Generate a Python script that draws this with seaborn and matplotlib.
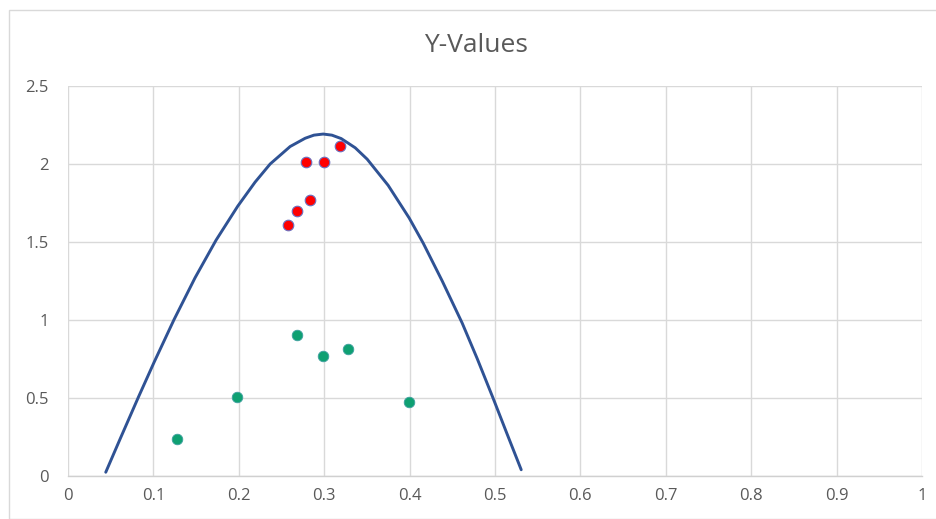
import matplotlib
matplotlib.use("Agg")
import matplotlib.pyplot as plt
import seaborn as sns
import pandas as pd
from matplotlib.patches import Rectangle

# Measured samples (upper group)
red_x = [0.258, 0.268, 0.283, 0.279, 0.300, 0.319]
red_y = [1.61, 1.70, 1.77, 2.01, 2.01, 2.115]

# Measured samples (lower group)
green_x = [0.128, 0.198, 0.268, 0.299, 0.328, 0.399]
green_y = [0.237, 0.506, 0.904, 0.769, 0.814, 0.474]

# Envelope curve
curve_x = [0.0442, 0.0609, 0.0824, 0.1008, 0.1242, 0.1488, 0.1734, 0.1988,
           0.2191, 0.2367, 0.2601, 0.2777, 0.2880, 0.2988, 0.3090, 0.3199,
           0.3363, 0.3503, 0.3749, 0.3995, 0.4159, 0.4382, 0.4616, 0.4792,
           0.4979, 0.5144, 0.5307]
curve_y = [0.024, 0.236, 0.505, 0.729, 1.003, 1.271, 1.512, 1.730,
           1.884, 2.000, 2.112, 2.165, 2.185, 2.192, 2.185, 2.163,
           2.104, 2.031, 1.863, 1.654, 1.493, 1.250, 0.980, 0.752,
           0.497, 0.266, 0.040]

x_ticks = [0, 0.1, 0.2, 0.3, 0.4, 0.5, 0.6, 0.7, 0.8, 0.9, 1]
x_labels = ["0", "0.1", "0.2", "0.3", "0.4", "0.5", "0.6", "0.7", "0.8", "0.9", "1"]
y_ticks = [0, 0.5, 1, 1.5, 2, 2.5]
y_labels = ["0", "0.5", "1", "1.5", "2", "2.5"]

sns.set_theme(style="white")
plt.rcParams["font.family"] = ["Open Sans", "DejaVu Sans"]

fig = plt.figure(figsize=(9.36, 5.19), dpi=100)
ax = fig.add_axes([68 / 936, 1 - 476 / 519, (922 - 68) / 936, (476 - 86) / 519])

grid_color = "#D9D9D9"
text_color = "#595959"

curve_df = pd.DataFrame({"x": curve_x, "y": curve_y})
red_df = pd.DataFrame({"x": red_x, "y": red_y})
green_df = pd.DataFrame({"x": green_x, "y": green_y})

sns.lineplot(data=curve_df, x="x", y="y", sort=False, ax=ax,
             color="#2F5294", linewidth=2.1, zorder=3)
line = ax.lines[-1]
line.set_solid_joinstyle("round")
line.set_solid_capstyle("round")
sns.scatterplot(data=red_df, x="x", y="y", ax=ax, color="#FF0000",
                edgecolor="#6A6FC0", linewidth=0.8, s=58, zorder=4)
sns.scatterplot(data=green_df, x="x", y="y", ax=ax, color="#0FA072",
                edgecolor="#3FA0A0", linewidth=0.6, s=58, zorder=4)

ax.set_xlim(0, 1)
ax.set_ylim(0, 2.5)
ax.set_xticks(x_ticks)
ax.set_xticklabels(x_labels)
ax.set_yticks(y_ticks)
ax.set_yticklabels(y_labels)
ax.set_xlabel("")
ax.set_ylabel("")

ax.grid(True, color=grid_color, linewidth=1.0)
ax.set_axisbelow(True)
for side in ["top", "right", "left"]:
    ax.spines[side].set_visible(False)
ax.spines["bottom"].set_color("#D0D0D0")
ax.spines["bottom"].set_linewidth(1.0)
ax.tick_params(axis="both", length=0, colors=text_color, labelsize=12)
ax.tick_params(axis="x", pad=9)
ax.tick_params(axis="y", pad=14)

fig.text(476 / 936, 1 - 46 / 519, "Y-Values", ha="center", va="center",
         fontsize=19, color=text_color)

# Chart-area border
fig.patches.append(Rectangle((9 / 936, 0), 1.2, 1 - 10 / 519,
                             transform=fig.transFigure, fill=False,
                             edgecolor="#D9D9D9", linewidth=1.0))

fig.savefig("out.png", dpi=100)
